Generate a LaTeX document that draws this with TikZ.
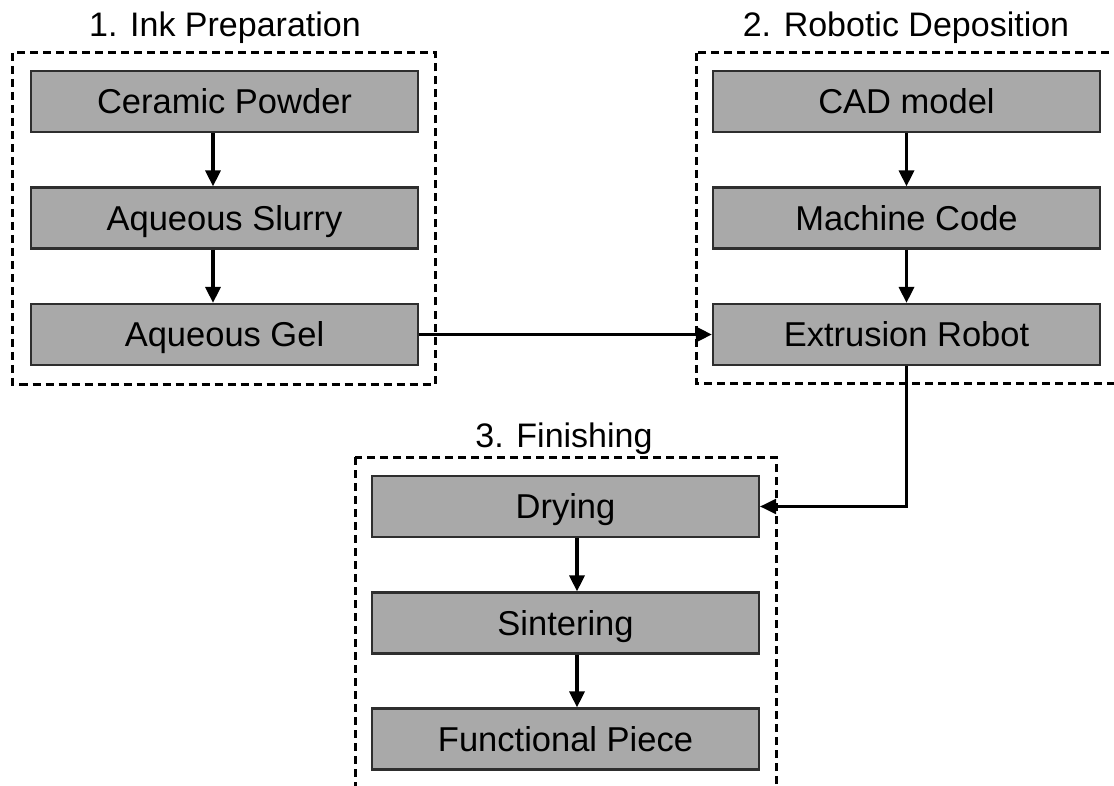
\documentclass[tikz,border=0pt]{standalone}
\usepackage{fontspec}
\setmainfont{Liberation Sans}
\usetikzlibrary{arrows.meta,calc}
\definecolor{boxgray}{HTML}{A9A9A9}
\definecolor{boxedge}{HTML}{2E2E2E}
\tikzset{
  procbox/.style={draw=boxedge, line width=2.2pt, fill=boxgray, rectangle,
    minimum width=387pt, minimum height=61pt, inner sep=0pt,
    text height=24.5pt, text depth=0pt,
    font=\fontsize{34.5}{40}\selectfont},
  grouptitle/.style={anchor=base, inner sep=0pt, font=\fontsize{34}{40}\selectfont},
  groupframe/.style={draw=black, line width=3pt, dash pattern=on 8pt off 5pt},
  arr/.style={draw=black, line width=3.3pt, -{Triangle[length=16pt,width=15pt]}},
  thinarr/.style={draw=black, line width=2.3pt, -{Triangle[length=16pt,width=15pt]}}
}
\begin{document}
\begin{tikzpicture}[x=1pt,y=-1pt]
\clip (0,0) rectangle (1114,786);
\fill[white] (0,0) rectangle (1114,786);
% group frames
\draw[groupframe] (12.5,53) rectangle (435,384);
\draw[groupframe] (696,53) rectangle (1125,383);
\draw[groupframe] (355,457) rectangle (776,800);
% titles
\node[grouptitle] (t1) at (225,37) {1. Ink Preparation};
\node[grouptitle] (t2) at (906,37) {2. Robotic Deposition};
\node[grouptitle] (t3) at (564,447) {3. Finishing};
% group 1
\node[procbox] (cp) at (224.5,101.5) {Ceramic Powder};
\node[procbox] (as) at (224.5,218) {Aqueous Slurry};
\node[procbox] (ag) at (224.5,334.5) {Aqueous Gel};
% group 2
\node[procbox] (cad) at (906.5,101.5) {CAD model};
\node[procbox] (mc) at (906.5,218) {Machine Code};
\node[procbox] (er) at (906.5,334.5) {Extrusion Robot};
% group 3
\node[procbox] (dr) at (565.5,506.5) {Drying};
\node[procbox] (si) at (565.5,623) {Sintering};
\node[procbox] (fp) at (565.5,739) {Functional Piece};
% connectors
\draw[arr] ($(cp.south)+(-11.5,0)$) -- ($(as.north)+(-11.5,0)$);
\draw[arr] ($(as.south)+(-11.5,0)$) -- ($(ag.north)+(-11.5,0)$);
\draw[arr] (cad.south) -- (mc.north);
\draw[arr] (mc.south) -- (er.north);
\draw[arr] ($(dr.south)+(11.5,0)$) -- ($(si.north)+(11.5,0)$);
\draw[arr] ($(si.south)+(11.5,0)$) -- ($(fp.north)+(11.5,0)$);
\draw[arr] (ag.east) -- (er.west);
\draw[thinarr] (er.south) |- (dr.east);
\end{tikzpicture}
\end{document}
